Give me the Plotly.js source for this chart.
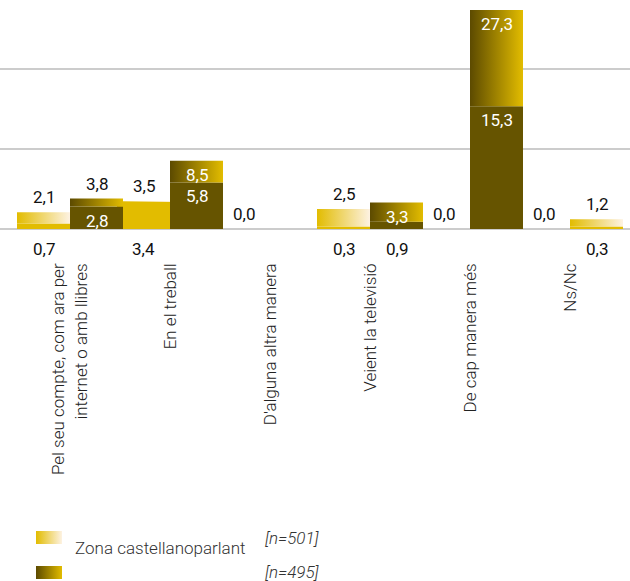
<!DOCTYPE html>
<html><head><meta charset="utf-8">
<script src="https://cdn.plot.ly/plotly-3.0.1.min.js"></script>
<style>html,body{margin:0;padding:0;background:#fff}#chart{width:630px;height:581px}</style>
</head><body><div id="chart"></div>
<script>
// ---- data ----
const categories = ['Pel seu compte, com ara per<br>internet o amb llibres', 'En el treball', "D'alguna altra manera", 'Veient la televisió', 'De cap manera més', 'Ns/Nc'];
const group1Label = 'Zona castellanoparlant';
const group1N = '[n=501]';
const group2N = '[n=495]';
const group1Bottom = [0.7, 3.4, 0.0, 0.3, 0.0, 0.0];
const group1Total  = [2.1, 3.5, 0.0, 2.5, 0.0, 0.0];
const group2Bottom = [2.8, 5.8, null, 0.9, 15.3, 0.3];
const group2Total  = [3.8, 8.5, null, 3.3, 27.3, 1.2];
const group2DrawnAsGroup1 = ['Ns/Nc'];

// ---- styles ----
const YELLOW = '#E2BC00', CREAM = '#FDF2E2', DARK = '#665400', DARK_G = '#5C4A00';
const W = 630, H = 581, PLOT_BOTTOM = 229;
const BAR_W = 0.53, MIN_INSIDE = 2.0;
const NUM_FONT = {family: 'Roboto, sans-serif', size: 17, color: '#111'};
const fmt = v => v.toFixed(1).replace('.', ',');
const seg = (t, b) => t.map((v, i) => v == null ? null : +(v - b[i]).toFixed(2));

const g1Top = seg(group1Total, group1Bottom);
const g2Top = seg(group2Total, group2Bottom);
const g2Colors = categories.map(c => group2DrawnAsGroup1.includes(c) ? YELLOW : DARK);

const common = {type: 'bar', x: categories, width: BAR_W, hoverinfo: 'skip', showlegend: false};
const data = [
  Object.assign({}, common, {y: group1Bottom, offset: -BAR_W, marker: {color: YELLOW, line: {width: 0}}}),
  Object.assign({}, common, {y: g1Top, base: group1Bottom, offset: -BAR_W, marker: {color: YELLOW, line: {width: 0}}}),
  Object.assign({}, common, {y: group2Bottom, offset: 0, marker: {color: g2Colors, line: {width: 0}}}),
  Object.assign({}, common, {y: g2Top, base: group2Bottom, offset: 0, marker: {color: DARK, line: {width: 0}}})
];

// ---- value labels ----
const annotations = [];
function lab(cat, side, y, text, where, color) {
  const a = {x: cat, y: y, xref: 'x', yref: 'y', text: text, showarrow: false,
    xanchor: 'center', xshift: side * BAR_W * 100 / 2, font: Object.assign({}, NUM_FONT, {color: color})};
  if (where === 'above') { a.yanchor = 'bottom'; a.yshift = 3; }
  else if (where === 'below') { a.yanchor = 'top'; a.yshift = -8; }
  else { a.yanchor = 'top'; a.yshift = -2; }
  annotations.push(a);
}
categories.forEach((c, i) => {
  // group 1: total above, bottom segment below the axis
  lab(c, -1, group1Total[i], fmt(group1Total[i]), 'above', '#111');
  if (group1Bottom[i] > 0) lab(c, -1, 0, fmt(group1Bottom[i]), 'below', '#111');
  // group 2
  if (group2Total[i] != null) {
    if (g2Top[i] >= MIN_INSIDE) lab(c, 1, group2Total[i], fmt(group2Total[i]), 'inside', '#fff');
    else lab(c, 1, group2Total[i], fmt(group2Total[i]), 'above', '#111');
    if (group2Bottom[i] >= MIN_INSIDE) lab(c, 1, group2Bottom[i], fmt(group2Bottom[i]), 'inside', '#fff');
    else if (group2Bottom[i] > 0) lab(c, 1, 0, fmt(group2Bottom[i]), 'below', '#111');
  }
});

// ---- legend (drawn) ----
const PH = PLOT_BOTTOM;
const px = x => x / W, py = y => (PH - y) / PH;
const shapes = [
  {type: 'rect', xref: 'paper', yref: 'paper', x0: px(36), x1: px(62), y0: py(544), y1: py(531), fillcolor: YELLOW, line: {width: 0}},
  {type: 'rect', xref: 'paper', yref: 'paper', x0: px(36), x1: px(62), y0: py(579), y1: py(566), fillcolor: DARK, line: {width: 0}}
];
const legFont = {family: 'Roboto, sans-serif', size: 17, color: '#333', weight: 300};
annotations.push({xref: 'paper', yref: 'paper', x: px(73), y: py(548), xanchor: 'left', yanchor: 'middle', text: group1Label, showarrow: false, font: legFont});
annotations.push({xref: 'paper', yref: 'paper', x: px(263), y: py(538), xanchor: 'left', yanchor: 'middle', text: '<i>' + group1N + '</i>', showarrow: false, font: legFont});
annotations.push({xref: 'paper', yref: 'paper', x: px(263), y: py(572), xanchor: 'left', yanchor: 'middle', text: '<i>' + group2N + '</i>', showarrow: false, font: legFont});

const layout = {
  width: W, height: H,
  margin: {l: 0, r: 0, t: 0, b: H - PLOT_BOTTOM, pad: 0},
  paper_bgcolor: '#fff', plot_bgcolor: '#fff',
  barmode: 'overlay',
  showlegend: false,
  xaxis: {type: 'category', range: [-0.7, 5.6], showgrid: false, zeroline: false, showline: false,
    ticks: '', tickangle: -90, ticklabelstandoff: 30,
    tickfont: {family: 'Roboto, sans-serif', size: 17, color: '#222', weight: 300}},
  yaxis: {range: [0, 28.55], dtick: 10, showticklabels: false, ticks: '',
    showgrid: true, gridcolor: '#cccccc', gridwidth: 2,
    zeroline: true, zerolinecolor: '#cccccc', zerolinewidth: 2, showline: false},
  annotations: annotations,
  shapes: shapes
};

const gd = document.getElementById('chart');
Plotly.newPlot(gd, data, layout, {displayModeBar: false, staticPlot: true}).then(() => {
  const NS = 'http://www.w3.org/2000/svg';
  const defs = gd.querySelector('.main-svg defs');
  function addGrad(id, c1, c2) {
    const lg = document.createElementNS(NS, 'linearGradient');
    lg.setAttribute('id', id);
    lg.setAttribute('x1', '0'); lg.setAttribute('y1', '0'); lg.setAttribute('x2', '1'); lg.setAttribute('y2', '0');
    [[0, c1], [1, c2]].forEach(([o, c]) => {
      const s = document.createElementNS(NS, 'stop');
      s.setAttribute('offset', o); s.setAttribute('stop-color', c);
      lg.appendChild(s);
    });
    defs.appendChild(lg);
  }
  addGrad('gradY', YELLOW, CREAM);
  addGrad('gradD', DARK_G, YELLOW);
  const traces = gd.querySelectorAll('.barlayer .trace');
  traces.forEach((tr, ti) => {
    let idx = ti;
    try { idx = tr.__data__[0].trace.index; } catch (e) {}
    if (idx !== 1 && idx !== 3) return;
    tr.querySelectorAll('.point path').forEach(p => {
      let i = 0;
      try { i = p.parentNode.__data__.i; } catch (e) {}
      let g = idx === 1 ? 'gradY' : 'gradD';
      if (idx === 3 && group2DrawnAsGroup1.includes(categories[i])) g = 'gradY';
      p.style.fill = 'url(#' + g + ')';
    });
  });
  const sh = gd.querySelectorAll('.shapelayer path');
  if (sh[0]) sh[0].style.fill = 'url(#gradY)';
  if (sh[1]) sh[1].style.fill = 'url(#gradD)';
});
</script>
</body></html>
